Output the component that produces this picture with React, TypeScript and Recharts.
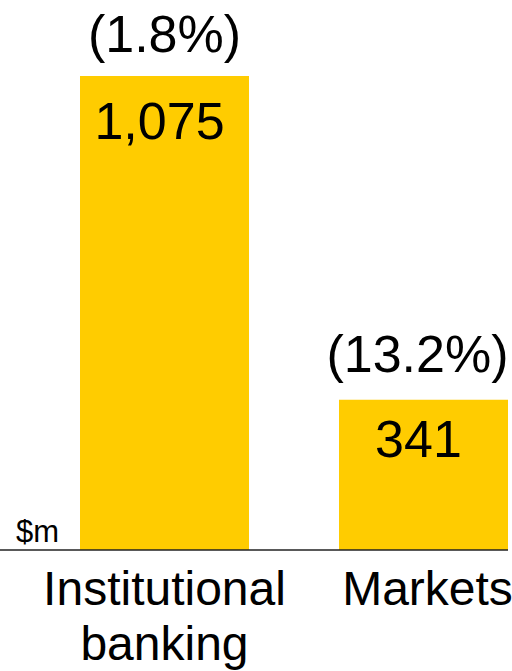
import { BarChart, Bar, XAxis, YAxis, LabelList } from 'recharts';

const categories = ['Institutional\nbanking', 'Markets'];
const values = [1075, 341];
const changes = ['(1.8%)', '(13.2%)'];

const data = categories.map((name, i) => ({ name, value: values[i], change: changes[i] }));

const FONT = '"Liberation Sans", Arial, sans-serif';
const YELLOW = '#FFCC00';

const CategoryTick = (props: any) => {
  const { x, y, payload, index } = props;
  const lines = String(payload.value).split('\n');
  const shift = index === 1 ? 4 : 0;
  return (
    <g>
      {lines.map((line, i) => (
        <text
          key={i}
          x={x + shift}
          y={y + 55 + i * 55}
          textAnchor="middle"
          fontSize={48}
          fontFamily={FONT}
          fill="#000"
        >
          {line}
        </text>
      ))}
    </g>
  );
};

const ValueLabel = (props: any) => {
  const { x, y, width, index, value } = props;
  const dy = index === 1 ? 57 : 63;
  return (
    <text x={x + width / 2 - 5} y={y + dy} textAnchor="middle" fontSize={52} fontFamily={FONT} fill="#000">
      {value.toLocaleString('en-US')}
    </text>
  );
};

const ChangeLabel = (props: any) => {
  const { x, y, width, index, value } = props;
  const shift = index === 1 ? -6 : 0;
  const dy = index === 1 ? 28 : 24;
  return (
    <text x={x + width / 2 + shift} y={y - dy} textAnchor="middle" fontSize={52} fontFamily={FONT} fill="#000">
      {value}
    </text>
  );
};

export default function App() {
  return (
    <div style={{ position: 'absolute', left: 0, top: 0, width: 512, height: 671, overflow: 'hidden', background: '#fff' }}>
      <BarChart
        width={512}
        height={671}
        data={data}
        margin={{ top: 76, right: 4, bottom: 0, left: 0 }}
        barSize={169}
      >
        <YAxis hide domain={[0, 1075]} />
        <XAxis
          dataKey="name"
          height={121}
          padding={{ left: 35, right: -45 }}
          axisLine={{ stroke: '#222', strokeWidth: 1.3 }}
          tickLine={false}
          tickSize={0}
          tickMargin={0}
          interval={0}
          tick={<CategoryTick />}
        />
        <Bar dataKey="value" fill={YELLOW} isAnimationActive={false}>
          <LabelList dataKey="value" content={<ValueLabel />} />
          <LabelList dataKey="change" content={<ChangeLabel />} />
        </Bar>
      </BarChart>
      <div
        style={{
          position: 'absolute',
          left: 16,
          top: 514,
          fontFamily: FONT,
          fontSize: 31,
          lineHeight: '36px',
          color: '#000',
        }}
      >
        $m
      </div>
    </div>
  );
}
